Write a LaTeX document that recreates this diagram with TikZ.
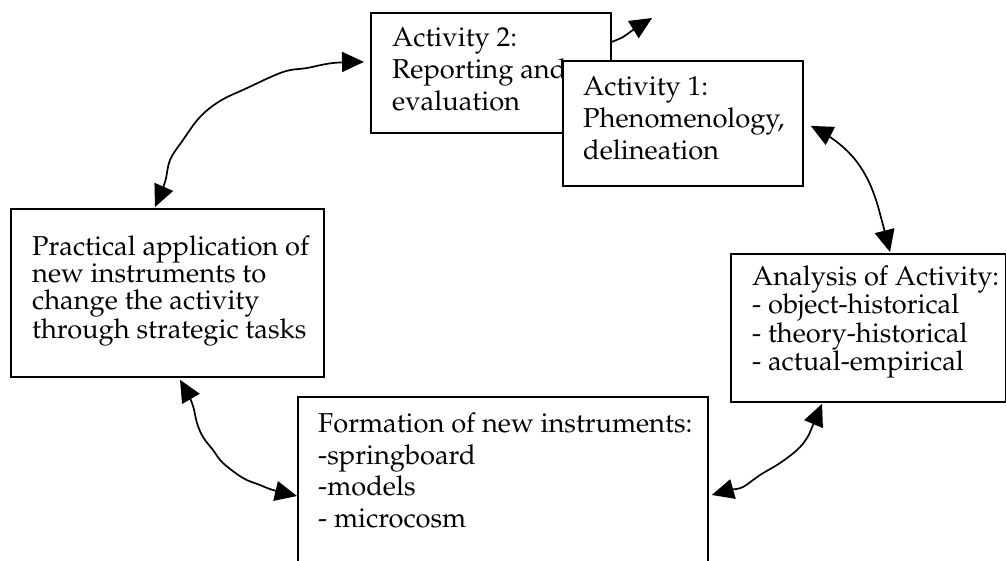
\documentclass[tikz,border=0pt]{standalone}
\usepackage[T1]{fontenc}
\usepackage{mathpazo}
\usetikzlibrary{arrows.meta}
\begin{document}
\begin{tikzpicture}[x=1pt,y=-1pt,
  box/.style={draw, line width=1.8pt, fill=white, inner sep=0pt, anchor=north west},
  txt/.style={anchor=north west, inner sep=0pt, align=left,
    font=\fontsize{27.3}{31.8}\selectfont},
  tight/.style={font=\fontsize{27.3}{27.3}\selectfont},
  tip/.tip={Triangle[length=22pt,width=20pt]},
  link/.style={line width=1.7pt, tip-tip},
  onelink/.style={line width=1.7pt, -tip},
]
% page frame; the formation box runs past the lower edge
\clip (0,0) rectangle (1006,560);

% boxes (Activity 1 is drawn after Activity 2 and covers its corner)
\node[box, minimum width=240pt, minimum height=120pt] (a2) at (370,12) {};
\node[txt] (a2t) at (392,27.3) {Activity 2:\\Reporting and\\evaluation};

\node[box, minimum width=240pt, minimum height=125pt] (a1) at (562,60) {};
\node[txt] (a1t) at (583,76.3) {Activity 1:\\Phenomenology,\\delineation};

\node[box, minimum width=313pt, minimum height=168pt] (pa) at (10,208) {};
\node[txt, tight] (pat) at (32,235.3) {Practical application of\\new instruments to\\change the activity\\through strategic tasks};

\node[box, minimum width=275pt, minimum height=148pt] (an) at (730,253) {};
\node[txt, tight] (ant) at (752,265.3) {Analysis of Activity:\\- object-historical\\- theory-historical\\- actual-empirical};

\node[box, minimum width=410pt, minimum height=180pt] (fo) at (297,396) {};
\node[txt] (fot) at (318,412.3) {Formation of new instruments:\\-springboard\\-models\\- microcosm};

% connectors
\draw[link] plot[smooth, tension=0.6] coordinates {
  ([xshift=145pt,yshift=1pt]pa.north west) (165,182) (170,160) (183,140) (200,117)
  (220,101) (245,89) (283,72) (307,68) (333,63) ([xshift=-6pt,yshift=11pt]a2.west)};

\draw[onelink] plot[smooth, tension=0.6] coordinates {
  ([yshift=31pt]a2.east) (623,37) (633,30) (652,18)};

\draw[link] plot[smooth, tension=0.6] coordinates {
  ([xshift=7pt,yshift=-2.5pt]a1.east) (827,135) (843,147) (857,162) (868,180)
  (876,200) (883,225) ([xshift=160pt,yshift=1pt]an.north west)};

\draw[link] plot[smooth, tension=0.6] coordinates {
  ([xshift=170pt,yshift=-2pt]pa.south west) (192,403) (197,423) (203,437) (213,450)
  (223,463) (243,478) (260,485) (273,490) ([yshift=-100pt]fo.north west)};

\draw[link] plot[smooth, tension=0.6] coordinates {
  ([xshift=3pt,yshift=-99pt]fo.north east) (730,490) (743,487) (760,475) (780,463)
  (797,450) (807,438) (813,425) ([xshift=92pt,yshift=-1pt]an.south west)};
\end{tikzpicture}
\end{document}
